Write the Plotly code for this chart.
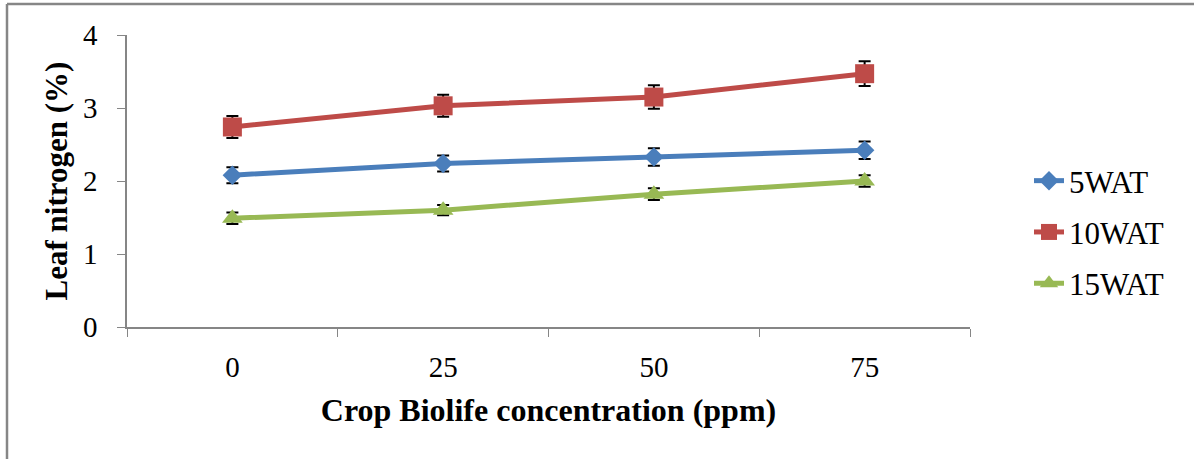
import plotly.graph_objects as go

categories = ["0", "25", "50", "75"]
wat5 = [2.08, 2.24, 2.33, 2.42]
wat5_err = [0.11, 0.11, 0.12, 0.12]
wat10 = [2.74, 3.03, 3.15, 3.47]
wat10_err = [0.15, 0.15, 0.16, 0.17]
wat15 = [1.49, 1.60, 1.82, 2.00]
wat15_err = [0.08, 0.07, 0.08, 0.08]

series = [
    ("5WAT", wat5, wat5_err, "#4A7EBB", "diamond", 15),
    ("10WAT", wat10, wat10_err, "#BE4B48", "square", 19),
    ("15WAT", wat15, wat15_err, "#98B954", "triangle-up", 18),
]

FONT = "Liberation Serif, Times New Roman, serif"

fig = go.Figure()
for name, vals, errs, color, sym, size in series:
    fig.add_trace(go.Scatter(
        x=categories, y=vals, name=name, mode="lines+markers",
        legendgroup=name,
        line=dict(color=color, width=5),
        marker=dict(symbol=sym, size=size, color=color),
        error_y=dict(type="data", array=errs, visible=True,
                     color="black", thickness=2, width=6),
    ))

fig.update_layout(
    width=1194, height=459,
    margin=dict(l=127, r=224, t=35, b=132),
    paper_bgcolor="white", plot_bgcolor="white",
    font=dict(family=FONT, size=29, color="black"),
    showlegend=True,
    legend=dict(x=(1029 - 127) / 843, y=(327 - 232) / 292,
                xanchor="left", yanchor="middle",
                font=dict(size=31, family=FONT), tracegroupgap=8,
                itemsizing="trace", bgcolor="rgba(0,0,0,0)"),
    xaxis=dict(
        type="category", range=[-0.5, 3.5],
        showline=True, linecolor="#868686", linewidth=1.5,
        ticks="outside", tickson="boundaries", ticklen=8, tickcolor="#868686",
        showgrid=False, zeroline=False,
        tickfont=dict(size=29, family=FONT),
        ticklabelstandoff=13,
        title=dict(text="<b>Crop Biolife concentration (ppm)</b>",
                   font=dict(size=32, family=FONT), standoff=17),
    ),
    yaxis=dict(
        range=[0, 4], dtick=1,
        showline=True, linecolor="#868686", linewidth=1.5,
        ticks="outside", ticklen=8, tickcolor="#868686",
        showgrid=False, zeroline=False,
        tickfont=dict(size=29, family=FONT),
        ticklabelstandoff=14,
        title=dict(text="<b>Leaf nitrogen (%)</b>",
                   font=dict(size=31, family=FONT), standoff=6),
    ),
)

# outer chart border (top and left visible)
fig.add_shape(type="line", xref="paper", yref="paper",
              x0=(7 - 127) / 843, x1=(1200 - 127) / 843,
              y0=(327 - 4) / 292, y1=(327 - 4) / 292,
              line=dict(color="#868686", width=2.5))
fig.add_shape(type="line", xref="paper", yref="paper",
              x0=(7 - 127) / 843, x1=(7 - 127) / 843,
              y0=(327 - 4) / 292, y1=(327 - 470) / 292,
              line=dict(color="#868686", width=2.5))

fig.write_html("out.html", config={"displayModeBar": False},
               post_script="document.body.style.margin='0';")
